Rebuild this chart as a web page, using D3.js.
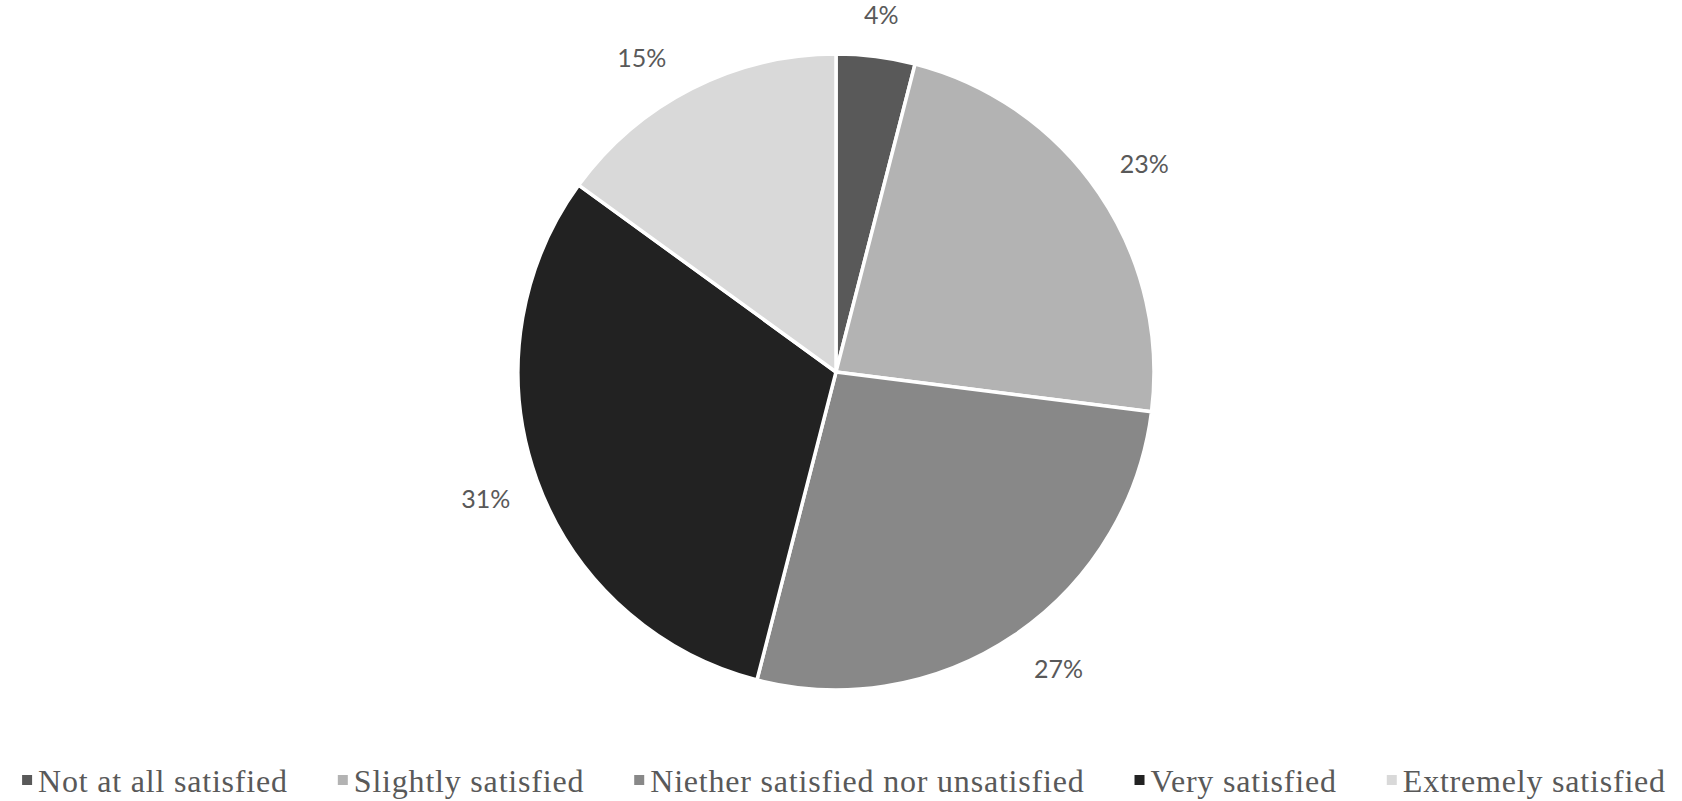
<!DOCTYPE html>
<html>
<head>
<meta charset="utf-8">
<script src="https://cdn.jsdelivr.net/npm/d3@7"></script>
<style>
  body { margin: 0; background: #fff; }
  svg { display: block; }
</style>
</head>
<body>
<svg id="chart" width="1682" height="801"></svg>
<script>
// data
var categories = [
  "Not at all satisfied",
  "Slightly satisfied",
  "Niether satisfied nor unsatisfied",
  "Very satisfied",
  "Extremely satisfied"
];
var shares = [4, 23, 27, 31, 15];
var colours = ["#595959", "#b3b3b3", "#888888", "#222222", "#d9d9d9"];

// layout
var width = 1682, height = 801;
var cx = 836, cy = 372, radius = 318;
var labelGap = 26;
// small turn (degrees) excel gives a couple of the labels
var labelTurn = [0, 0, -2.7, 0, -4.7];

var svg = d3.select("#chart");
var g = svg.append("g").attr("transform", "translate(" + cx + "," + cy + ")");

var pie = d3.pie().sort(null).value(function (d) { return d; });
var arc = d3.arc().innerRadius(0).outerRadius(radius);
var arcs = pie(shares);

g.selectAll("path.slice")
  .data(arcs)
  .enter()
  .append("path")
  .attr("class", "slice")
  .attr("d", arc)
  .attr("fill", function (d, i) { return colours[i]; })
  .attr("stroke", "#fff")
  .attr("stroke-width", 3.5)
  .attr("stroke-linejoin", "round");

// labels sit outside the end, text box just clear of the rim
var labels = g.selectAll("text.lbl")
  .data(arcs)
  .enter()
  .append("text")
  .attr("class", "lbl")
  .attr("text-anchor", "middle")
  .attr("dominant-baseline", "central")
  .attr("font-family", "Lato, 'Open Sans', sans-serif")
  .attr("font-size", 25)
  .attr("fill", "#595959")
  .text(function (d) { return d.data + "%"; });

labels.attr("transform", function (d, i) {
  var a = (d.startAngle + d.endAngle) / 2 + labelTurn[i] * Math.PI / 180;
  var bb = this.getBBox();
  var ext = Math.abs(Math.sin(a)) * bb.width / 2 + Math.abs(Math.cos(a)) * bb.height / 2;
  var r = radius + labelGap + ext;
  return "translate(" + (r * Math.sin(a)) + "," + (-r * Math.cos(a)) + ")";
});

// legend along the bottom, centred under the pie
var legendY = 792, box = 10, boxGap = 6, itemGap = 50;
var legend = svg.append("g");
var items = legend.selectAll("g.item")
  .data(categories)
  .enter()
  .append("g")
  .attr("class", "item");

items.append("text")
  .attr("x", box + boxGap)
  .attr("y", legendY)
  .attr("font-family", "'Liberation Serif', 'Times New Roman', serif")
  .attr("font-size", 32)
  .attr("letter-spacing", 0.8)
  .attr("fill", "#595959")
  .text(function (d) { return d; });

items.append("rect")
  .attr("x", 0)
  .attr("y", legendY - 17)
  .attr("width", box)
  .attr("height", box)
  .attr("fill", function (d, i) { return colours[i]; });

var xpos = 0;
items.each(function () {
  var w = this.getBBox().width;
  d3.select(this).attr("transform", "translate(" + xpos + ",0)");
  xpos += w + itemGap;
});
var total = xpos - itemGap;
legend.attr("transform", "translate(" + (844 - total / 2) + ",0)");
</script>
</body>
</html>
